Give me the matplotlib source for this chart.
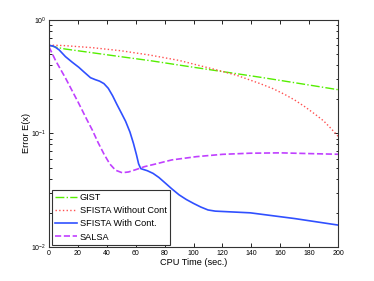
import matplotlib
matplotlib.use("Agg")
import matplotlib.pyplot as plt
from matplotlib.ticker import LogLocator, NullFormatter, MultipleLocator

plt.rcParams['font.family'] = ['Liberation Sans', 'DejaVu Sans']
plt.rcParams['mathtext.fontset'] = 'custom'
plt.rcParams['mathtext.rm'] = 'Liberation Sans'

# GIST
gist_x = [0, 5, 11, 30, 50, 70, 100, 120, 146, 170, 200]
gist_y = [0.60, 0.575, 0.555, 0.514, 0.474, 0.438, 0.383, 0.351, 0.313, 0.28, 0.243]

# SFISTA without continuation
sfw_x = [0, 10, 30, 50, 70, 90, 116, 130, 146, 155, 163, 170, 177, 184, 190, 195, 200]
sfw_y = [0.60, 0.595, 0.57, 0.535, 0.49, 0.44, 0.363, 0.325, 0.275, 0.248, 0.221, 0.197, 0.172, 0.148, 0.129, 0.111, 0.0944]

# SFISTA with continuation
sfc_x = [0, 2, 4, 7, 11.4, 16, 20.6, 24, 28.7, 32, 35, 38, 41, 44, 47, 50, 53, 56, 58.4, 60.5, 62, 63.5,
         68, 72, 76, 80, 85, 90, 95, 100, 105, 110, 115, 139.2, 170, 200]
sfc_y = [0.594, 0.592, 0.58, 0.545, 0.475, 0.425, 0.383, 0.35, 0.31, 0.298, 0.289, 0.275, 0.25, 0.215, 0.18, 0.152, 0.128, 0.103, 0.082, 0.065, 0.054, 0.049,
         0.047, 0.0445, 0.041, 0.037, 0.0325, 0.0288, 0.0262, 0.0242, 0.0225, 0.0212, 0.0207, 0.020, 0.0178, 0.0156]

# SALSA
salsa_x = [0, 4.5, 11.4, 16, 20.4, 26, 30, 34, 38, 42, 46, 50.6, 55, 60, 66, 73.6, 85, 102, 120, 139, 160, 180, 200]
salsa_y = [0.58, 0.44, 0.308, 0.238, 0.186, 0.134, 0.107, 0.083, 0.066, 0.054, 0.0475, 0.0451, 0.0458, 0.048, 0.051, 0.0538, 0.0585, 0.0625, 0.0655, 0.067, 0.0675, 0.0665, 0.0656]

fig = plt.figure(figsize=(3.74, 2.81), dpi=100)
ax = fig.add_axes([0.131, 0.121, 0.773, 0.808])

ax.plot(gist_x, gist_y, color='#55ee00', linestyle='-.', lw=1.0, label='GIST')
ax.plot(sfw_x, sfw_y, color='#ff5050', linestyle=':', lw=1.0, label='SFISTA Without Cont')
ax.plot(sfc_x, sfc_y, color='#3050ff', linestyle='-', lw=1.2, label='SFISTA With Cont.')
ax.plot(salsa_x, salsa_y, color='#c040ff', linestyle='--', lw=1.2, label='SALSA')

ax.set_yscale('log')
ax.set_xlim(0, 200)
ax.set_ylim(1e-2, 1e0)
ax.xaxis.set_major_locator(MultipleLocator(20))
ax.yaxis.set_major_locator(LogLocator(base=10, numticks=5))
ax.yaxis.set_minor_locator(LogLocator(base=10, subs=range(2, 10), numticks=20))
ax.yaxis.set_minor_formatter(NullFormatter())
ax.tick_params(which='both', direction='in', top=True, right=True, labelsize=5, width=0.6, pad=2)
ax.tick_params(which='major', length=3)
ax.tick_params(which='minor', length=1.8)
for s in ax.spines.values():
    s.set_linewidth(0.8)
    s.set_color('#333333')

ax.set_xlabel('CPU Time (sec.)', fontsize=6.6, labelpad=1)
ax.set_ylabel('Error E(x)', fontsize=6.6, labelpad=0)

leg = ax.legend(loc='lower left', bbox_to_anchor=(0.01, 0.01), borderaxespad=0,
                fontsize=6.6, fancybox=False, edgecolor='#333333', framealpha=1,
                handlelength=2.4, handletextpad=0.3, labelspacing=0.45, borderpad=0.35)
leg.get_frame().set_linewidth(0.8)

fig.savefig('out.png', dpi=100)
